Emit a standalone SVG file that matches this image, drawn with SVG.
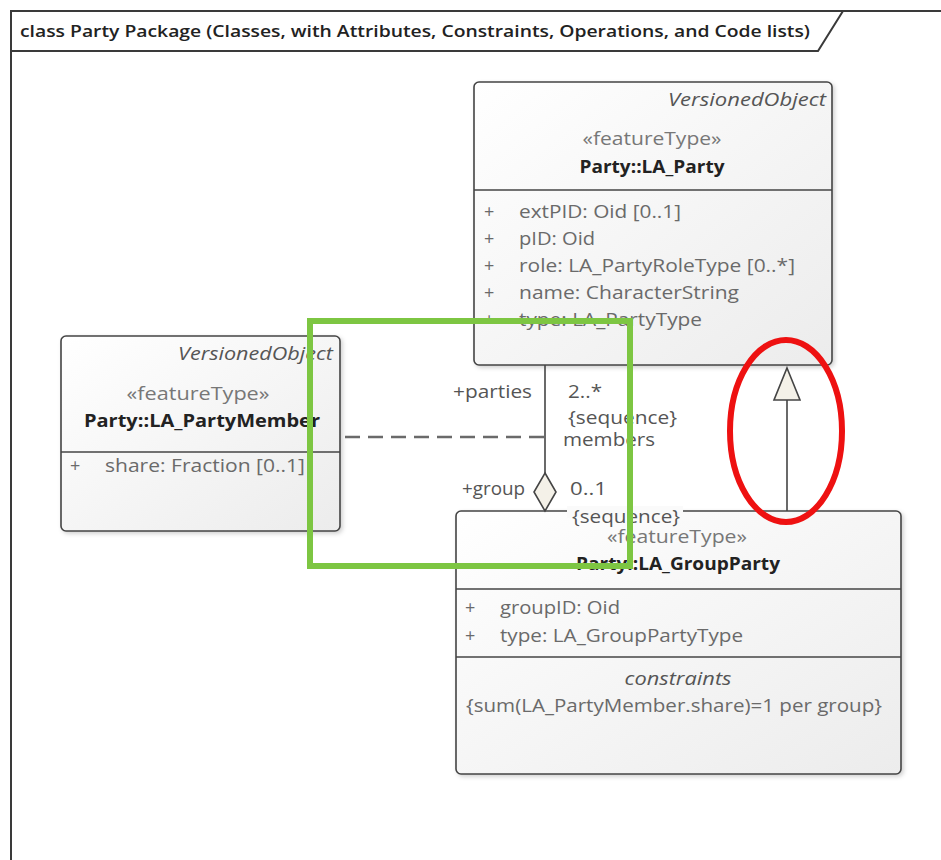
<svg xmlns="http://www.w3.org/2000/svg" width="941" height="860" viewBox="0 0 941 860">
  <defs>
    <linearGradient id="boxFill" x1="0" y1="0" x2="1" y2="1">
      <stop offset="0" stop-color="#ffffff"/>
      <stop offset="1" stop-color="#ececec"/>
    </linearGradient>
    <filter id="shadow" x="-5%" y="-5%" width="115%" height="115%">
      <feDropShadow dx="2" dy="2" stdDeviation="2" flood-color="#000" flood-opacity="0.18"/>
    </filter>
    <style>
      .frame { fill: none; stroke: #3a3a3a; stroke-width: 2; }
      .title { font-family: "Open Sans", "Noto Sans", "Liberation Sans", sans-serif; font-size: 17px; font-weight: 600; fill: #222; }
      .box { fill: url(#boxFill); stroke: #444; stroke-width: 1.6; filter: url(#shadow); }
      .div { stroke: #444; stroke-width: 1.6; }
      .t { font-family: "Open Sans", "Noto Sans", "Liberation Sans", sans-serif; font-size: 18px; fill: #6a6a6a; }
      .stereo { text-anchor: middle; fill: #777; }
      .name { text-anchor: middle; font-weight: 700; fill: #222; }
      .parent { text-anchor: end; font-style: italic; fill: #555; }
      .ital { font-style: italic; text-anchor: middle; fill: #555; }
      .lbl { fill: #555; }
      .line { fill: none; stroke: #444; stroke-width: 1.6; }
      .dash { fill: none; stroke: #6a6a6a; stroke-width: 2.6; stroke-dasharray: 15 8; }
      .head { fill: #f4f1e8; stroke: #444; stroke-width: 1.6; }
      .greenMark { fill: none; stroke: #7dc642; stroke-width: 6; }
      .redMark { fill: none; stroke: #ee1111; stroke-width: 6; }
    </style>
  </defs>

  <rect width="941" height="860" fill="#ffffff"/>

  <!-- diagram frame with title tab -->
  <g id="frame">
    <path class="frame" d="M11,860 V11 H941"/>
    <path class="frame" d="M11,51 H818 L843,11"/>
    <text class="title" x="20" y="37" textLength="790" lengthAdjust="spacingAndGlyphs">class Party Package (Classes, with Attributes, Constraints, Operations, and Code lists)</text>
  </g>

  <!-- LA_Party -->
  <g id="la-party">
    <rect class="box" x="474" y="82" width="358" height="283" rx="5"/>
    <line class="div" x1="474" y1="190" x2="832" y2="190"/>
    <text class="t parent" x="826" y="106" textLength="158" lengthAdjust="spacingAndGlyphs">VersionedObject</text>
    <text class="t stereo" x="652" y="145" textLength="139" lengthAdjust="spacingAndGlyphs">«featureType»</text>
    <text class="t name" x="652" y="173" textLength="145" lengthAdjust="spacingAndGlyphs">Party::LA_Party</text>
    <text class="t" x="484" y="218">+</text><text class="t" x="519" y="218" textLength="162" lengthAdjust="spacingAndGlyphs">extPID: Oid [0..1]</text>
    <text class="t" x="484" y="245">+</text><text class="t" x="519" y="245" textLength="76" lengthAdjust="spacingAndGlyphs">pID: Oid</text>
    <text class="t" x="484" y="272">+</text><text class="t" x="519" y="272" textLength="276" lengthAdjust="spacingAndGlyphs">role: LA_PartyRoleType [0..*]</text>
    <text class="t" x="484" y="299">+</text><text class="t" x="519" y="299" textLength="220" lengthAdjust="spacingAndGlyphs">name: CharacterString</text>
    <text class="t" x="484" y="326">+</text><text class="t" x="519" y="326" textLength="183" lengthAdjust="spacingAndGlyphs">type: LA_PartyType</text>
  </g>

  <!-- LA_PartyMember -->
  <g id="la-party-member">
    <rect class="box" x="61" y="336" width="279" height="195" rx="5"/>
    <line class="div" x1="61" y1="452" x2="340" y2="452"/>
    <text class="t parent" x="333" y="360" textLength="155" lengthAdjust="spacingAndGlyphs">VersionedObject</text>
    <text class="t stereo" x="198" y="400" textLength="143" lengthAdjust="spacingAndGlyphs">«featureType»</text>
    <text class="t name" x="202" y="427" textLength="236" lengthAdjust="spacingAndGlyphs">Party::LA_PartyMember</text>
    <text class="t" x="70" y="472">+</text><text class="t" x="105" y="472" textLength="200" lengthAdjust="spacingAndGlyphs">share: Fraction [0..1]</text>
  </g>

  <!-- LA_GroupParty -->
  <g id="la-group-party">
    <rect class="box" x="456" y="511" width="445" height="263" rx="5"/>
    <line class="div" x1="456" y1="589" x2="901" y2="589"/>
    <line class="div" x1="456" y1="657" x2="901" y2="657"/>
    <text class="t stereo" x="677" y="543" textLength="140" lengthAdjust="spacingAndGlyphs">«featureType»</text>
    <text class="t name" x="678" y="570" textLength="204" lengthAdjust="spacingAndGlyphs">Party::LA_GroupParty</text>
    <text class="t" x="465" y="614">+</text><text class="t" x="500" y="614" textLength="120" lengthAdjust="spacingAndGlyphs">groupID: Oid</text>
    <text class="t" x="465" y="642">+</text><text class="t" x="500" y="642" textLength="243" lengthAdjust="spacingAndGlyphs">type: LA_GroupPartyType</text>
    <text class="t ital" x="678" y="685" textLength="107" lengthAdjust="spacingAndGlyphs">constraints</text>
    <text class="t" x="466" y="712" textLength="416" lengthAdjust="spacingAndGlyphs">{sum(LA_PartyMember.share)=1 per group}</text>
  </g>

  <!-- connectors -->
  <g id="connectors">
    <!-- aggregation: LA_GroupParty (group) to LA_Party (parties) -->
    <line class="line" x1="545" y1="365" x2="545" y2="473"/>
    <path class="head" d="M545,473 L556,492 L545,511 L534,492 Z"/>
    <!-- association class link to LA_PartyMember -->
    <line class="dash" x1="345" y1="437" x2="545" y2="437"/>
    <!-- generalization: LA_GroupParty to LA_Party -->
    <line class="line" x1="787" y1="511" x2="787" y2="400"/>
    <path class="head" d="M787,368 L800,400 L774,400 Z"/>

    <text class="t lbl" x="453" y="398" textLength="79" lengthAdjust="spacingAndGlyphs">+parties</text>
    <text class="t lbl" x="568" y="398" textLength="34" lengthAdjust="spacingAndGlyphs">2..*</text>
    <text class="t lbl" x="568" y="424" textLength="109" lengthAdjust="spacingAndGlyphs">{sequence}</text>
    <text class="t lbl" x="563" y="446" textLength="92" lengthAdjust="spacingAndGlyphs">members</text>
    <text class="t lbl" x="462" y="495" textLength="63" lengthAdjust="spacingAndGlyphs">+group</text>
    <text class="t lbl" x="570" y="495" textLength="37" lengthAdjust="spacingAndGlyphs">0..1</text>
    <rect x="567" y="506" width="116" height="12" fill="#fafafa"/>
    <text class="t lbl" x="572" y="523" textLength="108" lengthAdjust="spacingAndGlyphs">{sequence}</text>
  </g>

  <!-- highlight marks -->
  <rect class="greenMark" x="310" y="321" width="320" height="245"/>
  <ellipse class="redMark" cx="786" cy="431" rx="56" ry="91"/>
</svg>
